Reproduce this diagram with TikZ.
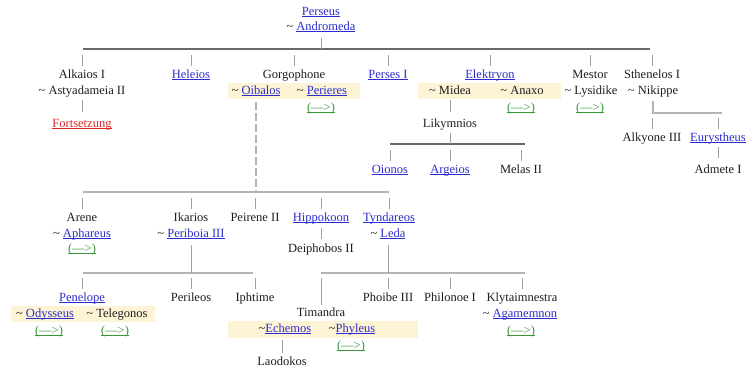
\documentclass[tikz,border=0pt]{standalone}
\usepackage{fontspec}
\setmainfont{Liberation Serif}
\definecolor{ink}{RGB}{30,30,30}
\definecolor{lnkc}{RGB}{45,45,205}
\definecolor{redc}{RGB}{220,40,40}
\definecolor{grnc}{RGB}{55,150,55}
\definecolor{bandc}{RGB}{253,244,214}
\definecolor{darkbus}{RGB}{105,105,105}
\definecolor{lightbus}{RGB}{180,180,180}
\definecolor{tickc}{RGB}{160,160,160}
% underlined link text
\newcommand\lk[2][lnkc]{{\color{#1}\sbox0{#2}\rlap{\rule[-1.6pt]{\wd0}{0.6pt}}\usebox0}}
\newcommand\tl{\textasciitilde}
\newcommand\more{\lk[grnc]{(—>)}}
% short drop line above a child
\newcommand\kid[1]{\draw[tk] ([yshift=3pt]#1.north) -- ++(0pt,11pt);}
\begin{document}
\begin{tikzpicture}[x=1pt,y=-1pt,
  t/.style={inner sep=0pt,text height=9pt,text depth=3pt,
    font=\fontsize{12.5}{14}\selectfont,text=ink},
  tk/.style={draw=tickc,line width=0.9pt},
  bd/.style={draw=darkbus,line width=1.6pt},
  bl/.style={draw=lightbus,line width=1.6pt},
  dsh/.style={draw=lightbus,line width=1.5pt,dash pattern=on 8pt off 3pt},
  band/.style={fill=bandc}]
\useasboundingbox (0,0) rectangle (756,370);

% partner bands
\fill[band] (228,83) rectangle (360,99);
\fill[band] (418,83) rectangle (561,99);
\fill[band] (11,306) rectangle (155,322);
\fill[band] (228,321) rectangle (418,338);

% bus coordinates
\coordinate (b1l) at (83,49);  \coordinate (b1r) at (650,49);
\coordinate (b2l) at (390,144); \coordinate (b2r) at (525,144);
\coordinate (b3l) at (83,192);  \coordinate (b3r) at (389,192);
\coordinate (b4l) at (83,273);  \coordinate (b4r) at (253,273);
\coordinate (b5l) at (321,273); \coordinate (b5r) at (525,273);
\coordinate (sthr) at (722,113);

% generation 0
\node[t] (perseus) at (321,12) {\lk{Perseus}};
\node[t] (andromeda) at (321,27) {\tl{} \lk{Andromeda}};

% generation 1
\node[t] (alkaios) at (82,75) {Alkaios I};
\node[t] (astyad) at (82,91) {\tl{} Astyadameia II};
\node[t] (forts) at (82,124) {\lk[redc]{Fortsetzung}};
\node[t] (heleios) at (191,75) {\lk{Heleios}};
\node[t] (gorgo) at (294,75) {Gorgophone};
\node[t] (oibalos) at (256,91) {\tl{} \lk{Oibalos}};
\node[t] (perieres) at (322,91) {\tl{} \lk{Perieres}};
\node[t] (perieresm) at (321,108) {\more};
\node[t] (perses) at (388,75) {\lk{Perses I}};
\node[t] (elektryon) at (490,75) {\lk{Elektryon}};
\node[t] (midea) at (450,91) {\tl{} Midea};
\node[t] (anaxo) at (522,91) {\tl{} Anaxo};
\node[t] (anaxom) at (521,108) {\more};
\node[t] (mestor) at (590,75) {Mestor};
\node[t] (lysidike) at (591,91) {\tl{} Lysidike};
\node[t] (lysidikem) at (590,108) {\more};
\node[t] (sthenelos) at (652,75) {Sthenelos I};
\node[t] (nikippe) at (653,91) {\tl{} Nikippe};

% Elektryon line
\node[t] (likymnios) at (450,124) {Likymnios};
\node[t] (oionos) at (390,170) {\lk{Oionos}};
\node[t] (argeios) at (450,170) {\lk{Argeios}};
\node[t] (melas) at (521,170) {Melas II};

% Sthenelos line
\node[t] (alkyone) at (652,138) {Alkyone III};
\node[t] (eury) at (718,138) {\lk{Eurystheus}};
\node[t] (admete) at (718,170) {Admete I};

% Gorgophone line
\node[t] (arene) at (82,218) {Arene};
\node[t] (aphareus) at (82,234) {\tl{} \lk{Aphareus}};
\node[t] (arenem) at (82,249) {\more};
\node[t] (ikarios) at (191,218) {Ikarios};
\node[t] (periboia) at (191,234) {\tl{} \lk{Periboia III}};
\node[t] (peirene) at (255,218) {Peirene II};
\node[t] (hippokoon) at (321,218) {\lk{Hippokoon}};
\node[t] (deiphobos) at (321,249) {Deiphobos II};
\node[t] (tyndareos) at (389,218) {\lk{Tyndareos}};
\node[t] (leda) at (388,234) {\tl{} \lk{Leda}};

% Ikarios line
\node[t] (penelope) at (82,298) {\lk{Penelope}};
\node[t] (odysseus) at (45,314) {\tl{} \lk{Odysseus}};
\node[t] (telegonos) at (117,314) {\tl{} Telegonos};
\node[t] (odysseusm) at (49,331) {\more};
\node[t] (telegonosm) at (115,331) {\more};
\node[t] (perileos) at (191,298) {Perileos};
\node[t] (iphtime) at (255,298) {Iphtime};

% Tyndareos line
\node[t] (timandra) at (321,313) {Timandra};
\node[t] (echemos) at (285,329) {\tl\lk{Echemos}};
\node[t] (phyleus) at (352,329) {\tl\lk{Phyleus}};
\node[t] (phyleusm) at (351,346) {\more};
\node[t] (laodokos) at (282,362) {Laodokos};
\node[t] (phoibe) at (388,298) {Phoibe III};
\node[t] (philonoe) at (450,298) {Philonoe I};
\node[t] (klyt) at (522,298) {Klytaimnestra};
\node[t] (agamemnon) at (520,314) {\tl{} \lk{Agamemnon}};
\node[t] (klytm) at (521,331) {\more};

% sibling buses
\draw[bd] (b1l) -- (b1r);
\draw[bd] (b2l) -- (b2r);
\draw[bl] (b3l) -- (b3r);
\draw[bl] (b4l) -- (b4r);
\draw[bl] (b5l) -- (b5r);
\draw[bl] ([yshift=-4pt]nikippe.south) |- (sthr);

% parents down to their buses
\draw[tk] ([yshift=-5pt]andromeda.south) -- (andromeda.south |- b1l);
\draw[tk] ([yshift=-3pt]likymnios.south) -- (likymnios.south |- b2l);
\draw[dsh] ([yshift=-5pt]oibalos.south) -- (oibalos.south |- b3l);
\draw[tk] ([yshift=-5pt]periboia.south) -- (periboia.south |- b4l);
\draw[tk] ([yshift=-5pt]leda.south) -- (leda.south |- b5l);

% single-child drops
\draw[tk] ([yshift=-3pt]astyad.south) -- ([yshift=6pt]forts.north);
\draw[tk] ([yshift=-3pt]midea.south) -- ([yshift=6pt]likymnios.north);
\draw[tk] ([yshift=-3pt]eury.south) -- ([yshift=6pt]admete.north);
\draw[tk] ([yshift=-4pt]hippokoon.south) -- ([yshift=4pt]deiphobos.north);
\draw[tk] ([yshift=3pt]laodokos.north) -- ++(0pt,13pt);

% children up to their buses
\kid{alkaios}\kid{heleios}\kid{gorgo}\kid{perses}\kid{elektryon}\kid{mestor}\kid{sthenelos}
\kid{oionos}\kid{argeios}\kid{melas}
\kid{alkyone}\kid{eury}
\kid{arene}\kid{ikarios}\kid{peirene}\kid{hippokoon}\kid{tyndareos}
\kid{penelope}\kid{perileos}\kid{iphtime}
\kid{phoibe}\kid{philonoe}\kid{klyt}
\draw[tk] ([yshift=2pt]timandra.north) -- ++(0pt,27pt);
\end{tikzpicture}
\end{document}
